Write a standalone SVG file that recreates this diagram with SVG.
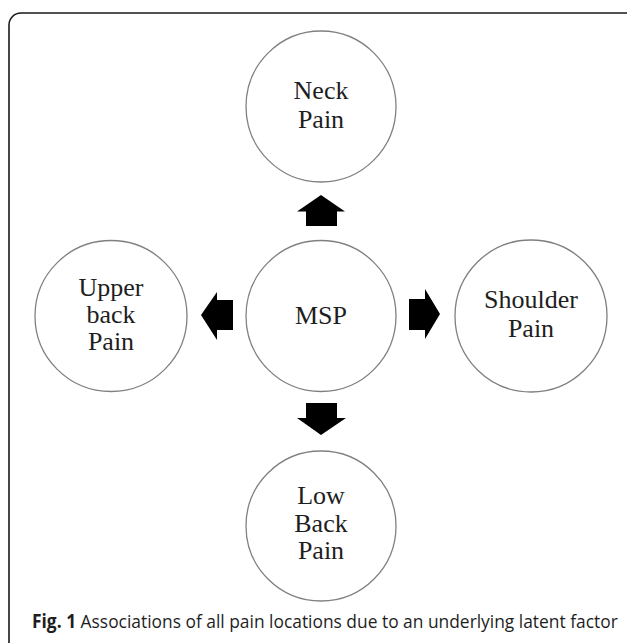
<svg xmlns="http://www.w3.org/2000/svg" width="627" height="643" viewBox="0 0 627 643">
<style>
.frame{fill:none;stroke:#1a1a1a;stroke-width:1.6}
.node{fill:#ffffff;stroke:#808080;stroke-width:1.3}
.lbl{font-family:"Liberation Serif","Times New Roman",serif;font-size:26px;fill:#1e1e1e;text-anchor:middle}
.arrow{fill:#000000}
.cap{font-family:"Open Sans","Noto Sans",sans-serif;font-size:19px;fill:#1e1e1e}
</style>
<rect width="627" height="643" fill="#ffffff"/>
<rect class="frame" x="9" y="13" width="630" height="660" rx="12" ry="12"/>
<g id="connectors">
<polygon class="arrow" points="321,195 345,211.5 337,211.5 337,226 306,226 306,211.5 297,211.5"/>
<polygon class="arrow" points="321,435 346,418 337,418 337,403 306,403 306,418 297,418"/>
<polygon class="arrow" points="201,315 217,292 217,300 233,300 233,330 217,330 217,340"/>
<polygon class="arrow" points="440,314 425,289 425,299 409,299 409,330 425,330 425,339"/>
</g>
<g id="neck">
<ellipse class="node" cx="321" cy="106.5" rx="75" ry="75.5"/>
<text class="lbl" x="321" y="99">Neck</text>
<text class="lbl" x="321" y="128">Pain</text>
</g>
<g id="msp">
<ellipse class="node" cx="321" cy="316" rx="75" ry="75.5"/>
<text class="lbl" x="321" y="324">MSP</text>
</g>
<g id="upperback">
<ellipse class="node" cx="111" cy="316" rx="76" ry="75.5"/>
<text class="lbl" x="111" y="296">Upper</text>
<text class="lbl" x="111" y="323">back</text>
<text class="lbl" x="111" y="350">Pain</text>
</g>
<g id="shoulder">
<ellipse class="node" cx="531" cy="316" rx="76" ry="76"/>
<text class="lbl" x="531" y="308">Shoulder</text>
<text class="lbl" x="531" y="337">Pain</text>
</g>
<g id="lowback">
<ellipse class="node" cx="321" cy="526" rx="75" ry="75"/>
<text class="lbl" x="321" y="504">Low</text>
<text class="lbl" x="321" y="532">Back</text>
<text class="lbl" x="321" y="559">Pain</text>
</g>
<text class="cap" transform="translate(32,628) scale(0.915,1)" x="0" y="0"><tspan font-weight="bold">Fig. 1</tspan> Associations of all pain locations due to an underlying latent factor</text>
</svg>
